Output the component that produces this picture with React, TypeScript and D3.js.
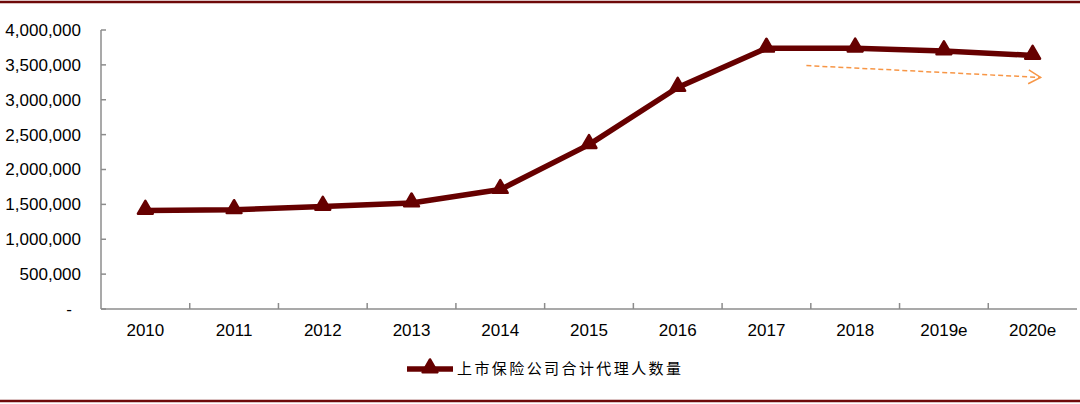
import React, {useEffect, useRef} from 'react';
import * as d3 from 'd3';

const years = ['2010', '2011', '2012', '2013', '2014', '2015', '2016', '2017', '2018', '2019e', '2020e'];
const agents = [1413000, 1423000, 1470000, 1519000, 1712000, 2357000, 3176000, 3738000, 3740000, 3700000, 3636000];
const yTicks = [0, 500000, 1000000, 1500000, 2000000, 2500000, 3000000, 3500000, 4000000];
const seriesName = '上市保险公司合计代理人数量';

// trend arrow: [category, offset inside band (0..1), value]
const trendFrom: [string, number, number] = ['2018', -0.05, 3490000];
const trendTo: [string, number, number] = ['2020e', 0.59, 3320000];

const App = () => {
    const ref = useRef<SVGSVGElement>(null);

    useEffect(() => {
        document.body.style.margin = '0';
        const width = 1080;
        const height = 404;
        const margin = {left: 101, right: 3, top: 30, bottom: 95};
        const lineColor = '#660000';
        const axisColor = '#8c8c8c';

        const svg = d3.select(ref.current);
        svg.selectAll('*').remove();

        const x = d3.scaleBand().domain(years).range([margin.left, width - margin.right]).padding(0);
        const y = d3.scaleLinear().domain([0, 4000000]).range([height - margin.bottom, margin.top]);
        const cx = (d: string) => (x(d) as number) + x.bandwidth() / 2;

        // frame lines
        svg.append('line').attr('x1', 0).attr('x2', width).attr('y1', 2).attr('y2', 2)
            .attr('stroke', '#6e0a0a').attr('stroke-width', 2.5);
        svg.append('line').attr('x1', 0).attr('x2', width).attr('y1', 401).attr('y2', 401)
            .attr('stroke', '#6e0a0a').attr('stroke-width', 2.5);

        const fmt = d3.format(',');

        // y axis
        const yAxis = svg.append('g');
        yAxis.append('line')
            .attr('x1', margin.left).attr('x2', margin.left)
            .attr('y1', y(4000000)).attr('y2', y(0))
            .attr('stroke', axisColor).attr('stroke-width', 1.5);
        yAxis.selectAll('line.tick').data(yTicks).join('line')
            .attr('class', 'tick')
            .attr('x1', margin.left).attr('x2', margin.left + 5)
            .attr('y1', d => y(d)).attr('y2', d => y(d))
            .attr('stroke', axisColor).attr('stroke-width', 1.5);
        yAxis.selectAll('text').data(yTicks).join('text')
            .attr('x', d => d === 0 ? 72 : 81)
            .attr('y', d => y(d))
            .attr('dy', '0.35em')
            .attr('text-anchor', 'end')
            .style('font-family', 'Liberation Sans, Arial, sans-serif')
            .style('font-size', '17px')
            .attr('fill', '#000')
            .text(d => d === 0 ? '-' : fmt(d));

        // x axis
        const xAxis = svg.append('g');
        xAxis.append('line')
            .attr('x1', margin.left).attr('x2', width - margin.right)
            .attr('y1', y(0)).attr('y2', y(0))
            .attr('stroke', axisColor).attr('stroke-width', 1.5);
        xAxis.selectAll('line.tick').data(years.slice(1)).join('line')
            .attr('class', 'tick')
            .attr('x1', d => x(d) as number).attr('x2', d => x(d) as number)
            .attr('y1', y(0)).attr('y2', y(0) - 6)
            .attr('stroke', axisColor).attr('stroke-width', 1.5);
        xAxis.selectAll('text').data(years).join('text')
            .attr('x', d => cx(d))
            .attr('y', y(0) + 27)
            .attr('text-anchor', 'middle')
            .style('font-family', 'Liberation Sans, Arial, sans-serif')
            .style('font-size', '17px')
            .attr('fill', '#000')
            .text(d => d);

        // series line
        const line = d3.line<number>()
            .x((d, i) => cx(years[i]))
            .y(d => y(d));
        svg.append('path')
            .datum(agents)
            .attr('d', line)
            .attr('fill', 'none')
            .attr('stroke', lineColor)
            .attr('stroke-width', 5.5)
            .attr('stroke-linejoin', 'round');

        const tri = d3.symbol(d3.symbolTriangle, 95);
        svg.append('g').selectAll('path').data(agents).join('path')
            .attr('d', tri)
            .attr('transform', (d, i) => `translate(${cx(years[i])},${y(d) - 1})`)
            .attr('fill', lineColor)
            .attr('stroke', lineColor)
            .attr('stroke-width', 2.5)
            .attr('stroke-linejoin', 'round');

        // trend arrow
        const ax = (p: [string, number, number]) => (x(p[0]) as number) + x.bandwidth() * p[1];
        const x1 = ax(trendFrom), y1 = y(trendFrom[2]);
        const x2 = ax(trendTo), y2 = y(trendTo[2]);
        const arrowColor = '#f79646';
        svg.append('line')
            .attr('x1', x1).attr('y1', y1).attr('x2', x2).attr('y2', y2)
            .attr('stroke', arrowColor).attr('stroke-width', 1.5)
            .attr('stroke-dasharray', '5,3');
        const ang = Math.atan2(y2 - y1, x2 - x1);
        const head = 14, spread = 0.52;
        svg.append('path')
            .attr('d', `M${x2 - head * Math.cos(ang - spread)},${y2 - head * Math.sin(ang - spread)}L${x2},${y2}L${x2 - head * Math.cos(ang + spread)},${y2 - head * Math.sin(ang + spread)}`)
            .attr('fill', 'none')
            .attr('stroke', arrowColor).attr('stroke-width', 1.5);

        // legend
        const lg = svg.append('g').attr('transform', 'translate(407,369)');
        lg.append('line').attr('x1', 0).attr('x2', 46).attr('y1', 0).attr('y2', 0)
            .attr('stroke', lineColor).attr('stroke-width', 5.5);
        lg.append('path').attr('d', tri).attr('transform', 'translate(23,-1)')
            .attr('fill', lineColor).attr('stroke', lineColor).attr('stroke-width', 2.5)
            .attr('stroke-linejoin', 'round');
        lg.append('text')
            .attr('x', 50).attr('y', 0).attr('dy', '0.36em')
            .style('font-family', '"Noto Sans CJK SC", sans-serif')
            .style('font-size', '15px')
            .attr('fill', '#000')
            .attr('textLength', 224)
            .attr('lengthAdjust', 'spacing')
            .text(seriesName);
    }, []);

    return <svg ref={ref} width={1080} height={404} style={{display: 'block', background: '#fff'}}></svg>;
};

export default App;
